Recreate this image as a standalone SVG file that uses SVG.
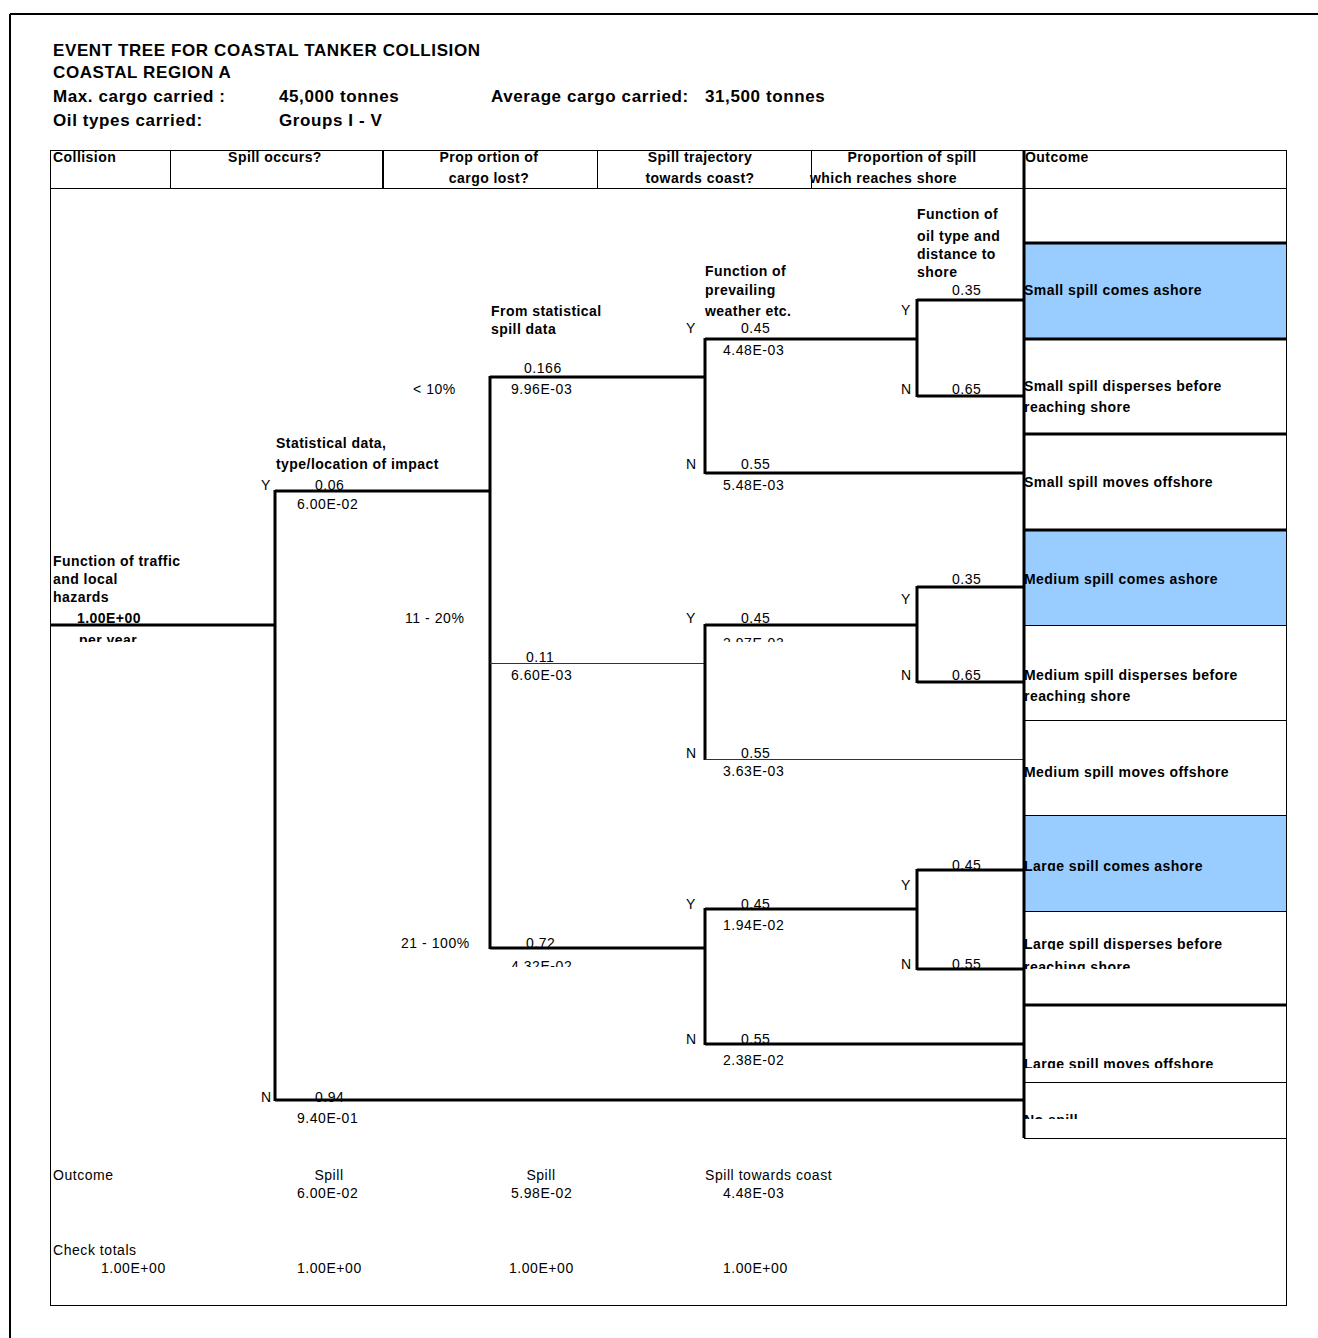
<svg xmlns="http://www.w3.org/2000/svg" width="1318" height="1338" viewBox="0 0 1318 1338">
<style>
text{font-family:"Liberation Sans",Arial,sans-serif;fill:#000}
.h{font-size:17px;font-weight:bold;letter-spacing:0.6px}
.b{font-size:14px;font-weight:bold;letter-spacing:0.45px}
.r{font-size:14px;letter-spacing:0.55px}
.c{text-anchor:middle}
.k{stroke:#000;stroke-width:3;fill:none}
.f{stroke:#333;stroke-width:1;fill:none}
.g{stroke:#000;stroke-width:1;fill:none}
.blue{fill:#99CCFF}
</style>
<defs>
<clipPath id="c642" clipPathUnits="userSpaceOnUse"><rect x="0" y="0" width="1318" height="642"/></clipPath>
<clipPath id="c967" clipPathUnits="userSpaceOnUse"><rect x="0" y="900" width="1318" height="67"/></clipPath>
<clipPath id="c870" clipPathUnits="userSpaceOnUse"><rect x="1024" y="840" width="294" height="31"/></clipPath>
<clipPath id="c950" clipPathUnits="userSpaceOnUse"><rect x="1024" y="920" width="294" height="30"/></clipPath>
<clipPath id="c969" clipPathUnits="userSpaceOnUse"><rect x="1024" y="952" width="294" height="17"/></clipPath>
<clipPath id="c1068" clipPathUnits="userSpaceOnUse"><rect x="1024" y="1040" width="294" height="28"/></clipPath>
<clipPath id="c1119" clipPathUnits="userSpaceOnUse"><rect x="1024" y="1100" width="294" height="19"/></clipPath>
<clipPath id="c703" clipPathUnits="userSpaceOnUse"><rect x="1024" y="684" width="294" height="19"/></clipPath>
<clipPath id="c779" clipPathUnits="userSpaceOnUse"><rect x="1024" y="760" width="294" height="19"/></clipPath>
</defs>

<g id="frame">
<line x1="10" y1="14" x2="1318" y2="14" stroke="#000" stroke-width="2"/>
<line x1="10" y1="14" x2="10" y2="1338" stroke="#000" stroke-width="2"/>
</g>

<g id="title">
<text class="h" x="53" y="56">EVENT TREE FOR COASTAL TANKER COLLISION</text>
<text class="h" x="53" y="78">COASTAL REGION A</text>
<text class="h" x="53" y="102">Max. cargo carried :</text>
<text class="h" x="279" y="102">45,000 tonnes</text>
<text class="h" x="491" y="102">Average cargo carried:</text>
<text class="h" x="705" y="102">31,500 tonnes</text>
<text class="h" x="53" y="126">Oil types carried:</text>
<text class="h" x="279" y="126">Groups I - V</text>
</g>

<g id="outcome-cells">
<rect class="blue" x="1024" y="243" width="262" height="96"/>
<rect class="blue" x="1024" y="530" width="262" height="95"/>
<rect class="blue" x="1024" y="815" width="262" height="96"/>
</g>

<g id="table">
<rect class="g" x="50.5" y="150.5" width="1236" height="1155"/>
<line class="g" x1="50" y1="188.5" x2="1286" y2="188.5"/>
<line class="g" x1="170.5" y1="150" x2="170.5" y2="188"/>
<line x1="383" y1="150" x2="383" y2="188" stroke="#000" stroke-width="2"/>
<line class="g" x1="597.5" y1="150" x2="597.5" y2="188"/>
<line class="g" x1="811.5" y1="150" x2="811.5" y2="188"/>
<line class="k" x1="1286" y1="243" x2="1024" y2="243"/>
<line class="k" x1="1286" y1="339" x2="1024" y2="339"/>
<line class="k" x1="1286" y1="434" x2="1024" y2="434"/>
<line class="k" x1="1286" y1="530" x2="1024" y2="530"/>
<line class="g" x1="1286" y1="625.5" x2="1024" y2="625.5"/>
<line class="g" x1="1286" y1="720.5" x2="1024" y2="720.5"/>
<line class="g" x1="1286" y1="815.5" x2="1024" y2="815.5"/>
<line class="g" x1="1286" y1="911.5" x2="1024" y2="911.5"/>
<line class="k" x1="1286" y1="1005" x2="1024" y2="1005"/>
<line class="g" x1="1286" y1="1082.5" x2="1024" y2="1082.5"/>
<line class="g" x1="1286" y1="1138.5" x2="1024" y2="1138.5"/>
</g>

<g id="column-headers">
<text class="b" x="53" y="162">Collision</text>
<text class="b c" x="275" y="162">Spill occurs?</text>
<text class="b c" x="489" y="162">Prop ortion of</text>
<text class="b c" x="489" y="183">cargo lost?</text>
<text class="b c" x="700" y="162">Spill trajectory</text>
<text class="b c" x="700" y="183">towards coast?</text>
<text class="b c" x="912" y="162">Proportion of spill</text>
<text class="b" x="810" y="183">which reaches shore</text>
<text class="b" x="1025" y="162">Outcome</text>
</g>

<g id="connectors">
<line class="k" x1="50" y1="625" x2="276" y2="625"/>
<line class="k" x1="275" y1="490" x2="275" y2="1101"/>
<line class="k" x1="275" y1="491" x2="491" y2="491"/>
<line class="k" x1="275" y1="1100" x2="1024" y2="1100"/>
<line class="k" x1="490" y1="376" x2="490" y2="949"/>
<line class="k" x1="490" y1="377" x2="706" y2="377"/>
<line class="f" x1="490" y1="663.5" x2="705" y2="663.5"/>
<line class="k" x1="490" y1="948" x2="706" y2="948"/>
<line class="k" x1="705" y1="338" x2="705" y2="474"/>
<line class="k" x1="705" y1="339" x2="918" y2="339"/>
<line class="k" x1="705" y1="473" x2="1024" y2="473"/>
<line class="k" x1="705" y1="624" x2="705" y2="760"/>
<line class="k" x1="705" y1="625" x2="918" y2="625"/>
<line class="f" x1="705" y1="759.5" x2="1024" y2="759.5"/>
<line class="k" x1="705" y1="908" x2="705" y2="1045"/>
<line class="k" x1="705" y1="909" x2="918" y2="909"/>
<line class="k" x1="705" y1="1044" x2="1024" y2="1044"/>
<line class="k" x1="917" y1="299" x2="917" y2="397"/>
<line class="k" x1="917" y1="300" x2="1024" y2="300"/>
<line class="k" x1="917" y1="396" x2="1024" y2="396"/>
<line class="k" x1="917" y1="586" x2="917" y2="683"/>
<line class="k" x1="917" y1="587" x2="1024" y2="587"/>
<line class="k" x1="917" y1="682" x2="1024" y2="682"/>
<line class="k" x1="917" y1="869" x2="917" y2="970"/>
<line class="k" x1="917" y1="870" x2="1024" y2="870"/>
<line class="k" x1="917" y1="969" x2="1024" y2="969"/>
<line class="k" x1="1024" y1="150" x2="1024" y2="1138"/>
</g>

<g id="node-collision">
<text class="b" x="53" y="566">Function of traffic</text>
<text class="b" x="53" y="584">and  local</text>
<text class="b" x="53" y="602">hazards</text>
<text class="b" x="77" y="623">1.00E+00</text>
<text class="b" x="79" y="645" clip-path="url(#c642)">per year</text>
</g>

<g id="node-spill">
<text class="b" x="276" y="448">Statistical data,</text>
<text class="b" x="276" y="469">type/location of impact</text>
<text class="r" x="261" y="490">Y</text>
<text class="r" x="315" y="490">0.06</text>
<text class="r" x="297" y="509">6.00E-02</text>
<text class="r" x="261" y="1102">N</text>
<text class="r" x="315" y="1102">0.94</text>
<text class="r" x="297" y="1123">9.40E-01</text>
</g>

<g id="node-cargo">
<text class="b" x="491" y="316">From statistical</text>
<text class="b" x="491" y="334">spill data</text>
<text class="r" x="413" y="394">&lt; 10%</text>
<text class="r" x="524" y="373">0.166</text>
<text class="r" x="511" y="394">9.96E-03</text>
<text class="r" x="405" y="623">11 - 20%</text>
<text class="r" x="526" y="662">0.11</text>
<text class="r" x="511" y="680">6.60E-03</text>
<text class="r" x="401" y="948">21 - 100%</text>
<text class="r" x="526" y="948">0.72</text>
<text class="r" x="511" y="971" clip-path="url(#c967)">4.32E-02</text>
</g>

<g id="node-trajectory">
<text class="b" x="705" y="276">Function of</text>
<text class="b" x="705" y="295">prevailing</text>
<text class="b" x="705" y="316">weather etc.</text>
<text class="r" x="686" y="333">Y</text>
<text class="r" x="741" y="333">0.45</text>
<text class="r" x="723" y="355">4.48E-03</text>
<text class="r" x="686" y="469">N</text>
<text class="r" x="741" y="469">0.55</text>
<text class="r" x="723" y="490">5.48E-03</text>
<text class="r" x="686" y="623">Y</text>
<text class="r" x="741" y="623">0.45</text>
<text class="r" x="723" y="648" clip-path="url(#c642)">2.97E-03</text>
<text class="r" x="686" y="758">N</text>
<text class="r" x="741" y="758">0.55</text>
<text class="r" x="723" y="776">3.63E-03</text>
<text class="r" x="686" y="909">Y</text>
<text class="r" x="741" y="909">0.45</text>
<text class="r" x="723" y="930">1.94E-02</text>
<text class="r" x="686" y="1044">N</text>
<text class="r" x="741" y="1044">0.55</text>
<text class="r" x="723" y="1065">2.38E-02</text>
</g>

<g id="node-shore">
<text class="b" x="917" y="219">Function of</text>
<text class="b" x="917" y="241">oil type and</text>
<text class="b" x="917" y="259">distance to</text>
<text class="b" x="917" y="277">shore</text>
<text class="r" x="952" y="295">0.35</text>
<text class="r" x="901" y="315">Y</text>
<text class="r" x="901" y="394">N</text>
<text class="r" x="952" y="394">0.65</text>
<text class="r" x="952" y="584">0.35</text>
<text class="r" x="901" y="604">Y</text>
<text class="r" x="901" y="680">N</text>
<text class="r" x="952" y="680">0.65</text>
<text class="r" x="952" y="870">0.45</text>
<text class="r" x="901" y="890">Y</text>
<text class="r" x="901" y="969">N</text>
<text class="r" x="952" y="969">0.55</text>
</g>

<g id="outcomes">
<text class="b" x="1024" y="295">Small spill comes ashore</text>
<text class="b" x="1024" y="391">Small spill disperses before</text>
<text class="b" x="1024" y="412">reaching shore</text>
<text class="b" x="1024" y="487">Small spill moves offshore</text>
<text class="b" x="1024" y="584">Medium spill comes ashore</text>
<text class="b" x="1024" y="680">Medium spill disperses before</text>
<text class="b" x="1024" y="701" clip-path="url(#c703)">reaching shore</text>
<text class="b" x="1024" y="777" clip-path="url(#c779)">Medium spill moves offshore</text>
<text class="b" x="1024" y="871" clip-path="url(#c870)">Large spill comes ashore</text>
<text class="b" x="1024" y="949" clip-path="url(#c950)">Large spill disperses  before</text>
<text class="b" x="1024" y="972" clip-path="url(#c969)">reaching shore</text>
<text class="b" x="1024" y="1069" clip-path="url(#c1068)">Large spill moves offshore</text>
<text class="b" x="1024" y="1125" clip-path="url(#c1119)">No spill</text>
</g>

<g id="totals">
<text class="r" x="53" y="1180">Outcome</text>
<text class="r c" x="329" y="1180">Spill</text>
<text class="r" x="297" y="1198">6.00E-02</text>
<text class="r c" x="541" y="1180">Spill</text>
<text class="r" x="511" y="1198">5.98E-02</text>
<text class="r" x="705" y="1180">Spill towards coast</text>
<text class="r" x="723" y="1198">4.48E-03</text>
<text class="r" x="53" y="1255">Check totals</text>
<text class="r" x="101" y="1273">1.00E+00</text>
<text class="r" x="297" y="1273">1.00E+00</text>
<text class="r" x="509" y="1273">1.00E+00</text>
<text class="r" x="723" y="1273">1.00E+00</text>
</g>
</svg>
